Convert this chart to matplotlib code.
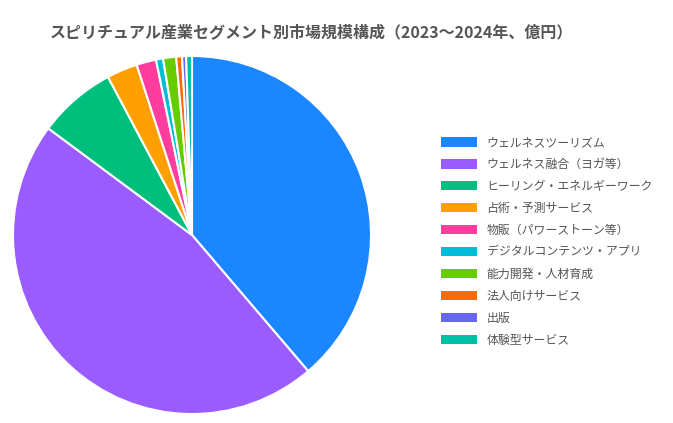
import matplotlib
matplotlib.use("Agg")
import matplotlib.pyplot as plt

plt.rcParams['font.family'] = ['Noto Sans CJK JP', 'DejaVu Sans']

# セグメント別市場規模（億円、推定値）
segments = [
    "ウェルネスツーリズム",
    "ウェルネス融合（ヨガ等）",
    "ヒーリング・エネルギーワーク",
    "占術・予測サービス",
    "物販（パワーストーン等）",
    "デジタルコンテンツ・アプリ",
    "能力開発・人材育成",
    "法人向けサービス",
    "出版",
    "体験型サービス",
]
values = [3100, 3712, 565, 222, 142, 51, 94, 42, 29, 42]
colors = ["#1a86ff", "#9b5cff", "#00bf7d", "#ff9f00", "#ff3d9e",
          "#00bcd6", "#66cc00", "#ff6a00", "#6766f0", "#00bfa5"]

W, H = 673, 423
fig = plt.figure(figsize=(W / 100, H / 100), dpi=100)

# 円グラフ
ax = fig.add_axes([13 / W, 9 / H, 358 / W, 358 / H])
wedges, _ = ax.pie(values, colors=colors, startangle=90, counterclock=False,
                   radius=1, wedgeprops=dict(edgecolor="white", linewidth=1.5))
ax.set_xlim(-1, 1)
ax.set_ylim(-1, 1)
ax.set_aspect("equal")

# 凡例
fs = 8.6
px = fs * 100 / 72
leg = fig.legend(wedges, segments, loc="upper left",
                 bbox_to_anchor=(441 / W, 1 - 136 / H),
                 frameon=False, fontsize=fs, borderpad=0, borderaxespad=0,
                 handlelength=36 / px, handleheight=10 / px,
                 handletextpad=9.5 / px, labelspacing=(20.9 - px) / px)
for t in leg.get_texts():
    t.set_color("#555555")
for h in leg.legend_handles:
    h.set_edgecolor("none")

# タイトル
fig.text(50 / W, 1 - 33 / H, "スピリチュアル産業セグメント別市場規模構成（2023〜2024年、億円）",
         fontsize=11.5, fontweight="bold", color="#555555", va="center", ha="left")

fig.savefig("out.png", dpi=100)
